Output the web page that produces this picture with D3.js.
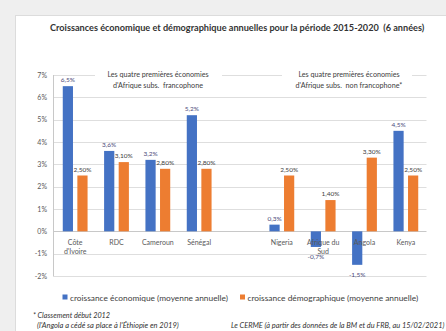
<!DOCTYPE html>
<html><head><meta charset="utf-8">
<script src="https://cdn.jsdelivr.net/npm/d3@7/dist/d3.min.js"></script>
<style>
html,body{margin:0;padding:0;background:#efefef;}
svg{display:block;}
text{font-family:Lato,"Open Sans",sans-serif;white-space:pre;}
</style></head>
<body>
<svg id="c" width="446" height="331"></svg>
<script>
const categories = [["Côte","d'Ivoire"],["RDC"],["Cameroun"],["Sénégal"],[""],["Nigeria"],["Afrique du","Sud"],["Angola"],["Kenya"]];
const ecoValues = [6.5, 3.6, 3.2, 5.2, null, 0.3, -0.7, -1.5, 4.5];
const ecoLabels = ["6,5%","3,6%","3,2%","5,2%","","0,3%","-0,7%","-1,5%","4,5%"];
const demoValues = [2.5, 3.1, 2.8, 2.8, null, 2.5, 1.4, 3.3, 2.5];
const demoLabels = ["2,50%","3,10%","2,80%","2,80%","","2,50%","1,40%","3,30%","2,50%"];
const yTicks = [-2,-1,0,1,2,3,4,5,6,7];
const yTickLabels = ["-2%","-1%","0%","1%","2%","3%","4%","5%","6%","7%"];
const seriesNames = ["croissance économique (moyenne annuelle)","croissance démographique (moyenne annuelle)"];
const colors = ["#4472C4","#ED7D31"];
const title = "Croissances économique et démographique annuelles pour la période 2015-2020  (6 années)";
const note1 = ["Les quatre premières économies","d'Afrique subs.  francophone"];
const note2 = ["Les quatre premières économies","d'Afrique subs.  non francophone*"];
const foot1 = "* Classement début 2012";
const foot2 = "(l'Angola a cédé sa place à l'Éthiopie en 2019)";
const foot3 = "Le CERME (à partir des données de la BM et du FRB, au 15/02/2021)";

const svg = d3.select("#c");
function fit(sel, w){ const n=sel.node(); const l=n.getComputedTextLength(); const fs=parseFloat(sel.attr("font-size")); sel.attr("font-size", fs*w/l); return sel; }

// card
svg.append("rect").attr("x",15.5).attr("y",15.5).attr("width",440).attr("height",330).attr("fill","#fff").attr("stroke","#dcdcdc");

fit(svg.append("text").attr("x",50).attr("y",31).attr("font-size",9).attr("font-weight","bold").attr("fill","#333").text(title),375);

const xL = 54.5, xR = 426.5;
const y = d3.scaleLinear().domain([-2,7]).range([276,75]);
const x0 = d3.scaleBand().domain(d3.range(categories.length)).range([xL,xR]).paddingInner(0.4).paddingOuter(0.2);
const x1 = d3.scaleBand().domain([0,1]).range([0,x0.bandwidth()]).paddingInner(0.3);

// grid
svg.append("g").selectAll("line").data(yTicks).join("line")
  .attr("x1",53).attr("x2",xR).attr("y1",d=>Math.round(y(d))+0.5).attr("y2",d=>Math.round(y(d))+0.5)
  .attr("stroke",d=>d===0?"#c8c8c8":"#dedede").attr("stroke-width",1);
svg.append("line").attr("x1",53.5).attr("x2",53.5).attr("y1",y(7)).attr("y2",y(-2)).attr("stroke","#c8c8c8");

// y labels
svg.append("g").selectAll("text").data(yTicks).join("text")
  .attr("x",47).attr("y",d=>y(d)+2.5).attr("text-anchor","end").attr("font-size",7).attr("fill","#595959")
  .text((d,i)=>yTickLabels[i]);

// annotation boxes
function note(lines, cx, x0b, x1b){
  svg.append("rect").attr("x",x0b).attr("y",66).attr("width",x1b-x0b).attr("height",26).attr("fill","#fff");
  lines.forEach((t,i)=>svg.append("text").attr("x",cx).attr("y",76.5+i*11).attr("text-anchor","middle").attr("font-size",7.2).attr("fill","#404040").text(t));
}
note(note1,158,95,222);
note(note2,349,282,412);

// bars
const vals=[ecoValues,demoValues], labs=[ecoLabels,demoLabels];
vals.forEach((arr,s)=>{
  const g=svg.append("g");
  const data=arr.map((v,i)=>({v,i})).filter(d=>d.v!==null);
  g.selectAll("rect").data(data).join("rect")
    .attr("x",d=>x0(d.i)+x1(s)).attr("width",x1.bandwidth())
    .attr("y",d=>y(Math.max(0,d.v))).attr("height",d=>Math.abs(y(d.v)-y(0)))
    .attr("fill",colors[s]);
  g.selectAll("text").data(data).join("text")
    .attr("x",d=>x0(d.i)+x1(s)+x1.bandwidth()/2)
    .attr("y",d=>d.v>=0?y(d.v)-4:y(d.v)+12)
    .attr("text-anchor","middle").attr("font-size",6.5).attr("fill",s===0?"#4a4a7a":"#404040")
    .text(d=>labs[s][d.i]);
});

// category labels
categories.forEach((lines,i)=>{
  lines.forEach((t,k)=>svg.append("text").attr("x",x0(i)+x0.bandwidth()/2).attr("y",y(0)+13.5+k*9.5)
    .attr("text-anchor","middle").attr("font-size",7).attr("fill","#595959").text(t));
});

// legend
const legX=[62.5,240];
seriesNames.forEach((n,s)=>{
  svg.append("rect").attr("x",legX[s]).attr("y",294.5).attr("width",5).attr("height",5).attr("fill",colors[s]);
  fit(svg.append("text").attr("x",legX[s]+7.5).attr("y",300.5).attr("font-size",8).attr("fill","#404040").text(n), s===0?158:171);
});

// footnotes
fit(svg.append("text").attr("x",33).attr("y",318).attr("font-size",6.5).attr("font-style","italic").attr("fill","#333").text(foot1),77);
fit(svg.append("text").attr("x",37).attr("y",328).attr("font-size",6.5).attr("font-style","italic").attr("fill","#333").text(foot2),142);
fit(svg.append("text").attr("x",231).attr("y",328).attr("font-size",6.5).attr("font-style","italic").attr("fill","#333").text(foot3),214);
</script>
</body></html>
